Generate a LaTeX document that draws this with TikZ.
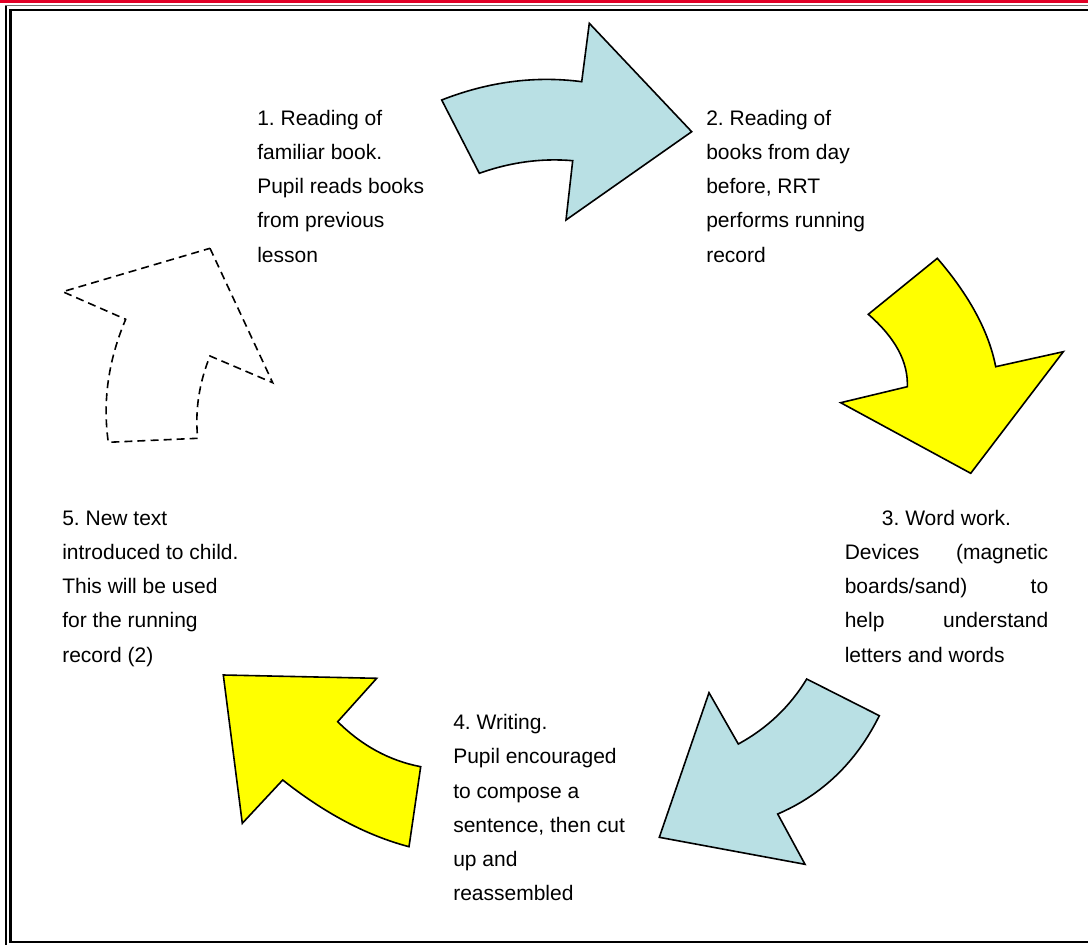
\documentclass[tikz,border=0pt]{standalone}
\usepackage{fontspec}
\setmainfont{Liberation Sans}
\usepackage{tikz}
\definecolor{arrowblue}{RGB}{185,224,228}
\definecolor{arrowyellow}{RGB}{255,255,0}
\definecolor{bandred}{RGB}{226,0,38}
\newcommand{\stepfont}{\fontsize{15.75pt}{25.7pt}\selectfont\frenchspacing}
\tikzset{
  paint/.style={draw=black, fill=#1, line width=1.2pt},
  paint none/.style={draw=black, line width=1.2pt, dash pattern=on 6pt off 3.8pt},
  step text/.style={anchor=base west, align=left, inner sep=0pt, font=\stepfont}
}

\begin{document}
\begin{tikzpicture}[x=0.75pt, y=-0.75pt]
\useasboundingbox (0,0) rectangle (1088,945);

% the frame
\fill[bandred] (0,0) rectangle (1088,3.5);
\draw[black!55, line width=1.2pt] (5.8,945) -- (5.8,5.7) -- (1088,5.7);
\draw[black, line width=1.2pt] (5.8,945) -- (5.8,5.7);
\draw[black, line width=1.9pt] (1088,10.2) -- (10.6,10.2) -- (10.6,942.2) -- (1088,942.2);

% the arrows
\draw[paint=arrowblue]
      (441.7,100) .. controls (488.4,81.7) and (535,75.6) .. (581.7,81.7)
   -- (589.3,23.3) -- (691.7,131.7) -- (566,220) -- (572.7,160.7)
      .. controls (541.6,158) and (510.4,162.2) .. (479.3,173.3) -- cycle;
\draw[paint=arrowyellow]
      (937.3,258.3) .. controls (969.4,295.5) and (988.9,331.7) .. (995.7,366.7)
   -- (1063.3,351.7) -- (970.7,473.3) -- (840.7,402.7) -- (907.3,386.7)
      .. controls (908.3,361.9) and (895.3,337.8) .. (868.3,314.3) -- cycle;
\draw[paint=arrowblue]
      (806.7,679) -- (879.3,715.7)
      .. controls (856.4,762) and (822.5,794.7) .. (777.7,814)
   -- (805,864.3) -- (659.3,837.3) -- (709,692.7) -- (738.3,744)
      .. controls (767.1,728.3) and (789.9,706.7) .. (806.7,679) -- cycle;
\draw[paint=arrowyellow]
      (223.3,675) -- (376.7,678.3) -- (337.7,721.7)
      .. controls (362,745.8) and (389.7,760.8) .. (420.7,766.7)
   -- (409,846.7)
      .. controls (366.8,835.6) and (324.7,813.3) .. (282.7,780)
   -- (242.3,823.3) -- cycle;
\draw[paint none]
      (210,248.3) -- (272.7,382.7) -- (210,356)
      .. controls (199,383.2) and (194.9,410.6) .. (197.7,438.3)
   -- (108.3,442.3)
      .. controls (102.5,401.2) and (108.3,360.2) .. (125.7,319.3)
   -- (62.7,291.7) -- cycle;

% the steps (placed at the baseline of their last line)
\node[step text] (step1) at (257,262.1)
  {1. Reading of\\familiar book.\\Pupil reads books\\from previous\\lesson};
\node[step text] (step2) at (706,262.1)
  {2. Reading of\\books from day\\before, RRT\\performs running\\record};
\node[step text] (step3) at (844.5,662.1)
  {\makebox[152.6pt]{3. Word work.}\\
   \makebox[152.6pt][s]{Devices (magnetic}\\
   \makebox[152.6pt][s]{boards/sand) to}\\
   \makebox[152.6pt][s]{help understand}\\
   letters and words};
\node[step text] (step4) at (453,900.9)
  {4. Writing.\\Pupil encouraged\\to compose a\\sentence, then cut\\up and\\reassembled};
\node[step text] (step5) at (62,662.1)
  {5. New text\\introduced to child.\\This will be used\\for the running\\record (2)};
\end{tikzpicture}
\end{document}
